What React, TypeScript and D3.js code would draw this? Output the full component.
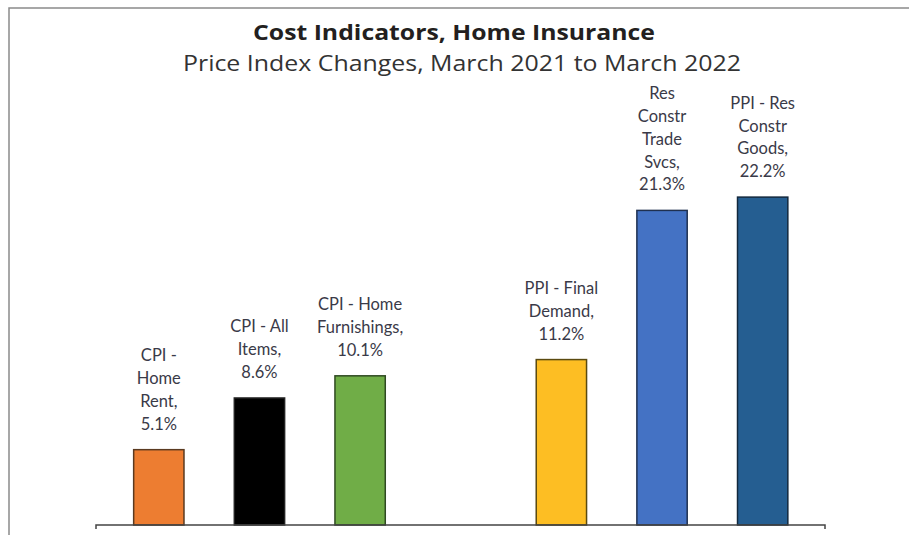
import React from "react";
import * as d3 from "d3";

const categories = [
  "CPI - Home Rent",
  "CPI - All Items",
  "CPI - Home Furnishings",
  "",
  "PPI - Final Demand",
  "Res Constr Trade Svcs",
  "PPI - Res Constr Goods",
];
const values: (number | null)[] = [5.1, 8.6, 10.1, null, 11.2, 21.3, 22.2];
const labelLines: string[][] = [
  ["CPI -", "Home", "Rent,"],
  ["CPI - All", "Items,"],
  ["CPI - Home", "Furnishings,"],
  [],
  ["PPI - Final", "Demand,"],
  ["Res", "Constr", "Trade", "Svcs,"],
  ["PPI - Res", "Constr", "Goods,"],
];
const colors = ["#ED7D31", "#000000", "#70AD47", "none", "#FDBE23", "#4472C4", "#255E91"];
const strokes = ["#5a3a20", "#222222", "#2f4a22", "none", "#5a4a10", "#1f3050", "#12283d"];

const title = "Cost Indicators, Home Insurance";
const subtitle = "Price Index Changes, March 2021 to March 2022";

export default function App() {
  const W = 909;
  const H = 535;
  const baseY = 525;
  const x = d3
    .scaleBand<string>()
    .domain(categories.map((c, i) => c || "gap" + i))
    .range([108.5, 813])
    .paddingInner(0.5)
    .paddingOuter(0.25);
  const y = d3.scaleLinear().domain([0, 25]).range([baseY, baseY - 369.25]);
  const lineH = 22.8;
  const labelFont = "Lato, 'Open Sans', sans-serif";

  return (
    <svg width={W} height={H} style={{ position: "absolute", left: 0, top: 0 }}>
      <rect x={0} y={0} width={W} height={H} fill="#fff" />
      <rect x={9} y={8} width={W + 20} height={H + 20} fill="none" stroke="#8a8a8a" strokeWidth={1.5} />
      <text x={454} y={40} textAnchor="middle" fontFamily="'Open Sans', sans-serif" fontWeight={700} fontSize={21} fill="#231f20" textLength={402} lengthAdjust="spacingAndGlyphs">
        {title}
      </text>
      <text x={462} y={71} textAnchor="middle" fontFamily="'Open Sans', sans-serif" fontSize={21} fill="#333" textLength={558} lengthAdjust="spacingAndGlyphs">
        {subtitle}
      </text>
      {categories.map((c, i) => {
        const v = values[i];
        if (v == null) return null;
        const key = c || "gap" + i;
        const bx = x(key)!;
        const bw = x.bandwidth();
        const top = y(v);
        const lines = [...labelLines[i], `${v.toFixed(1)}%`];
        const cx = bx + bw / 2;
        const lastBase = top - 20;
        return (
          <g key={key}>
            <rect x={bx} y={top} width={bw} height={baseY - top} fill={colors[i]} stroke={strokes[i]} strokeWidth={1.5} />
            <text textAnchor="middle" fontFamily={labelFont} fontSize={16.5} fill="#3a3a48">
              {lines.map((l, j) => (
                <tspan key={j} x={cx} y={lastBase - (lines.length - 1 - j) * lineH}>
                  {l}
                </tspan>
              ))}
            </text>
          </g>
        );
      })}
      <path d={`M96,529V${baseY}H825V529`} fill="none" stroke="#444" strokeWidth={1.5} />
    </svg>
  );
}
